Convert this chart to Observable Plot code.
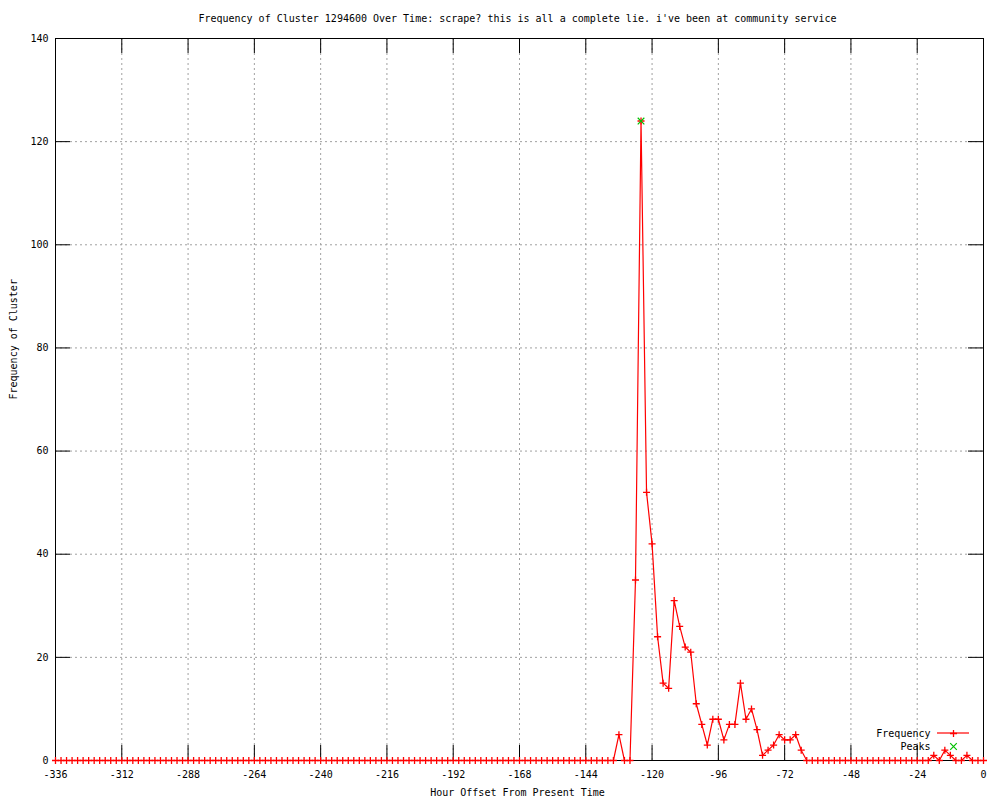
<!DOCTYPE html>
<html>
<head>
<meta charset="utf-8">
<script src="https://cdn.jsdelivr.net/npm/d3@7"></script>
<script src="https://cdn.jsdelivr.net/npm/@observablehq/plot@0.6"></script>
<style>
  html, body { margin: 0; padding: 0; background: #fff; }
  #chart svg { display: block; }
</style>
</head>
<body>
<div id="chart"></div>
<script>
// ---------- text ----------
const titleText = "Frequency of Cluster 1294600 Over Time: scrape? this is all a complete lie. i've been at community service";
const xLabelText = "Hour Offset From Present Time";
const yLabelText = "Frequency of Cluster";
const legendNames = ["Frequency", "Peaks"];

// ---------- ticks ----------
const xTicks = [-336, -312, -288, -264, -240, -216, -192, -168, -144, -120, -96, -72, -48, -24, 0];
const yTicks = [0, 20, 40, 60, 80, 100, 120, 140];

// ---------- data (one value every 2 hours, -336 .. 0) ----------
const hours = d3.range(-336, 1, 2);
const frequency = [
  // -336 .. -134
  0,0,0,0,0,0,0,0,0,0,0,0,0,0,0,0,0,
  0,0,0,0,0,0,0,0,0,0,0,0,0,0,0,0,0,
  0,0,0,0,0,0,0,0,0,0,0,0,0,0,0,0,0,
  0,0,0,0,0,0,0,0,0,0,0,0,0,0,0,0,0,
  0,0,0,0,0,0,0,0,0,0,0,0,0,0,0,0,0,
  0,0,0,0,0,0,0,0,0,0,0,0,0,0,0,0,0,
  // -132 .. -66
  5, 0, 0, 35, 124, 52, 42, 24, 15, 14,
  31, 26, 22, 21, 11, 7, 3, 8, 8, 4,
  7, 7, 15, 8, 10, 6, 1, 2, 3, 5,
  4, 4, 5, 2,
  // -64 .. -20
  0,0,0,0,0,0,0,0,0,0,0,0,0,0,0,0,0,0,0,0,0,0,0,
  // -18 .. 0
  1, 0, 2, 1, 0, 0, 1, 0, 0, 0
];
const peakHours = [-124];
const peakValues = [124];

const freqData = hours.map((h, i) => ({hour: h, freq: frequency[i]}));
const peakData = peakHours.map((h, i) => ({hour: h, freq: peakValues[i]}));

// ---------- layout ----------
const W = 1000, H = 800;
const mL = 55, mR = 17, mT = 38, mB = 40;
const frameW = W - mL - mR, frameH = H - mT - mB;
const tickLen = 15;
const RED = "#ff0000", GREEN = "#00c000", GRID = "#a0a0a0";

const plot = Plot.plot({
  width: W, height: H,
  marginLeft: mL, marginRight: mR, marginTop: mT, marginBottom: mB,
  style: {fontFamily: "'DejaVu Sans Mono', monospace", fontSize: "10px", background: "#fff", color: "#000"},
  x: {domain: [-336, 0]},
  y: {domain: [0, 140]},
  marks: [
    Plot.gridX(xTicks, {stroke: GRID, strokeOpacity: 1, strokeDasharray: "2,3"}),
    Plot.gridY(yTicks, {stroke: GRID, strokeOpacity: 1, strokeDasharray: "2,3"}),
    // inward ticks on all four sides (gnuplot mirror)
    Plot.tickX(xTicks, {x: d => d, insetTop: frameH - tickLen, stroke: "#000"}),
    Plot.tickX(xTicks, {x: d => d, insetBottom: frameH - tickLen, stroke: "#000"}),
    Plot.tickY(yTicks, {y: d => d, insetRight: frameW - tickLen, stroke: "#000"}),
    Plot.tickY(yTicks, {y: d => d, insetLeft: frameW - tickLen, stroke: "#000"}),
    Plot.frame({stroke: "#000"}),
    Plot.axisX(xTicks, {tickSize: 0, tickPadding: 10, tickFormat: d => String(d), label: null}),
    Plot.axisY(yTicks, {tickSize: 0, tickPadding: 7, tickFormat: d => String(d), label: null}),
    // series
    Plot.line(freqData, {x: "hour", y: "freq", stroke: RED, strokeWidth: 1.2}),
    Plot.dot(freqData, {x: "hour", y: "freq", symbol: "plus", r: 2.4, stroke: RED, strokeWidth: 1.3}),
    Plot.dot(peakData, {x: "hour", y: "freq", symbol: "times", r: 3.1, stroke: GREEN, strokeWidth: 1.2}),
    // titles
    Plot.text([titleText], {frameAnchor: "top", lineAnchor: "middle", dy: -20, dx: -2}),
    Plot.text([xLabelText], {frameAnchor: "bottom", lineAnchor: "middle", dy: 32, dx: -2}),
    Plot.text([yLabelText], {frameAnchor: "left", lineAnchor: "middle", dx: -42, rotate: -90}),
    // legend
    Plot.text([legendNames[0]], {frameAnchor: "bottom-right", lineAnchor: "middle", dx: -53, dy: -27, textAnchor: "end"}),
    Plot.text([legendNames[1]], {frameAnchor: "bottom-right", lineAnchor: "middle", dx: -53, dy: -14, textAnchor: "end"}),
    Plot.dot([0], {frameAnchor: "bottom-right", dx: -30, dy: -27, symbol: "plus", r: 2.4, stroke: RED, strokeWidth: 1.3}),
    Plot.dot([0], {frameAnchor: "bottom-right", dx: -30, dy: -14, symbol: "times", r: 3.1, stroke: GREEN, strokeWidth: 1.2})
  ]
});

// legend line sample for the Frequency series
d3.select(plot).append("line")
  .attr("x1", W - mR - 46).attr("x2", W - mR - 14)
  .attr("y1", H - mB - 27).attr("y2", H - mB - 27)
  .attr("stroke", RED).attr("stroke-width", 1.2);

document.getElementById("chart").appendChild(plot);
</script>
</body>
</html>
